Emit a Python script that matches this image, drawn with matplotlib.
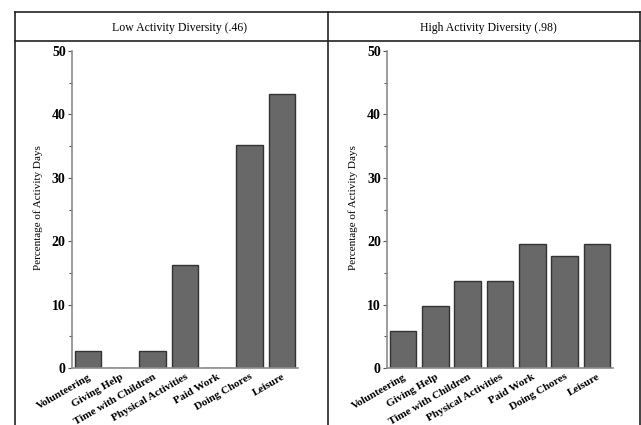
import matplotlib
matplotlib.use("Agg")
import matplotlib.pyplot as plt
from matplotlib.lines import Line2D
from matplotlib.ticker import MultipleLocator

categories = ["Volunteering", "Giving Help", "Time with Children", "Physical Activities",
              "Paid Work", "Doing Chores", "Leisure"]
low_values = [2.7, 0.0, 2.7, 16.2, 0.0, 35.1, 43.2]
high_values = [5.8, 9.8, 13.7, 13.7, 19.6, 17.6, 19.6]
panel_titles = ["Low Activity Diversity (.46)", "High Activity Diversity (.98)"]

W, H = 641, 425
plt.rcParams["font.family"] = ["Liberation Serif", "DejaVu Serif"]

fig = plt.figure(figsize=(W / 100, H / 100), dpi=100)


def fx(px):
    return px / W


def fy(py):
    return 1 - py / H


def draw_panel(ax, values, ylabel_x):
    x = range(len(categories))
    ax.bar(x, values, width=0.82, color="#686868", edgecolor="#333333", linewidth=1.0)
    ax.set_xlim(-0.5, len(categories) - 0.5)
    ax.set_ylim(0, 50)
    ax.yaxis.set_major_locator(MultipleLocator(10))
    ax.yaxis.set_minor_locator(MultipleLocator(5))
    for side in ("top", "right"):
        ax.spines[side].set_visible(False)
    for side in ("left", "bottom"):
        ax.spines[side].set_color("#8c8c8c")
        ax.spines[side].set_linewidth(1.2)
    ax.tick_params(axis="y", which="major", length=3, width=0.8, color="#555555", pad=1.5,
                   labelsize=10)
    ax.tick_params(axis="y", which="minor", length=2, width=0.8, color="#555555")
    ax.tick_params(axis="x", length=0, pad=3)
    for lab in ax.get_yticklabels():
        lab.set_fontweight("bold")
    ax.set_xticks(list(x))
    ax.set_xticklabels(categories, rotation=30, ha="right", rotation_mode="anchor",
                       fontsize=8, fontweight="bold")
    ax.set_ylabel("Percentage of Activity Days", fontsize=8)
    ax.yaxis.set_label_coords(ylabel_x, 0.5, transform=fig.transFigure)


ax_low = fig.add_axes([fx(72), fy(368), fx(226), 317 / H])
ax_high = fig.add_axes([fx(387), fy(368), fx(226), 317 / H])
draw_panel(ax_low, low_values, fx(38))
draw_panel(ax_high, high_values, fx(353))
for ax in (ax_low, ax_high):
    ax.yaxis.label.set_verticalalignment("center")
    ax.yaxis.label.set_y(fy(208))

# frame around the panels
frame = dict(color="#222222", linewidth=1.2, transform=fig.transFigure)
fig.add_artist(Line2D([fx(15), fx(640)], [fy(12), fy(12)], **frame))
fig.add_artist(Line2D([fx(15), fx(640)], [fy(41), fy(41)], **frame))
fig.add_artist(Line2D([fx(15), fx(15)], [fy(12), 0], **frame))
fig.add_artist(Line2D([fx(328), fx(328)], [fy(12), 0], **frame))
fig.add_artist(Line2D([fx(640), fx(640)], [fy(12), 0], **frame))

fig.text(fx(180), fy(28), panel_titles[0], ha="center", va="center", fontsize=8.5)
fig.text(fx(488), fy(28), panel_titles[1], ha="center", va="center", fontsize=8.5)

fig.savefig("out.png", dpi=100)
